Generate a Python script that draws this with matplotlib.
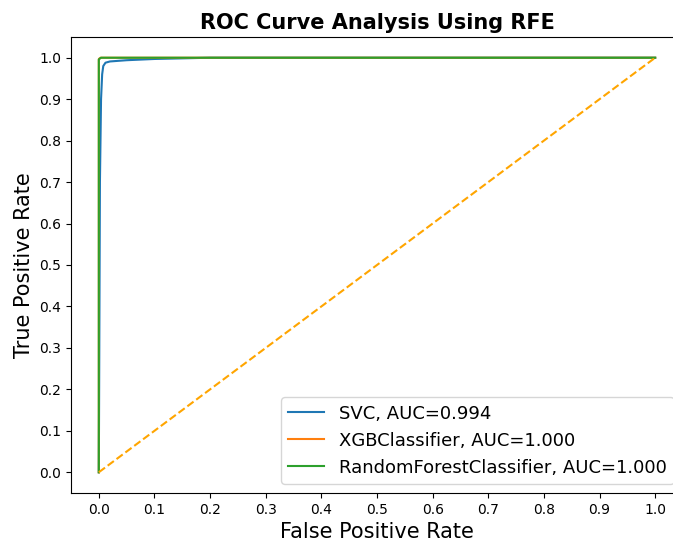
import matplotlib
matplotlib.use("Agg")
import matplotlib.pyplot as plt
import numpy as np

# ROC points per classifier (fpr, tpr)
svc_fpr = [0.0, 0.002, 0.004, 0.006, 0.008, 0.012, 0.02, 0.05, 0.1, 0.2, 1.0]
svc_tpr = [0.0, 0.70, 0.90, 0.96, 0.98, 0.988, 0.991, 0.994, 0.997, 1.0, 1.0]
xgb_fpr = [0.0, 0.0, 0.003, 1.0]
xgb_tpr = [0.0, 0.997, 1.0, 1.0]
rf_fpr = [0.0, 0.0, 0.004, 1.0]
rf_tpr = [0.0, 0.996, 1.0, 1.0]

labels = ["SVC, AUC=0.994", "XGBClassifier, AUC=1.000",
          "RandomForestClassifier, AUC=1.000"]

fig = plt.figure(figsize=(6.73, 5.44), dpi=100)
# axes run a little past the right edge of the canvas
ax = fig.add_axes([71 / 673, 51 / 544, 612 / 673, 456 / 544])

ax.plot(svc_fpr, svc_tpr, label=labels[0])
ax.plot(xgb_fpr, xgb_tpr, label=labels[1])
ax.plot(rf_fpr, rf_tpr, label=labels[2])
ax.plot([0, 1], [0, 1], color="orange", linestyle="--")

ax.set_xticks(np.arange(0.0, 1.1, step=0.1))
ax.set_yticks(np.arange(0.0, 1.1, step=0.1))
ax.set_xlabel("False Positive Rate", fontsize=15)
ax.set_ylabel("True Positive Rate", fontsize=15)
ax.set_title("ROC Curve Analysis Using RFE", fontweight="bold", fontsize=15)
ax.legend(prop={"size": 13}, loc="lower right")

fig.savefig("out.png", dpi=100)
